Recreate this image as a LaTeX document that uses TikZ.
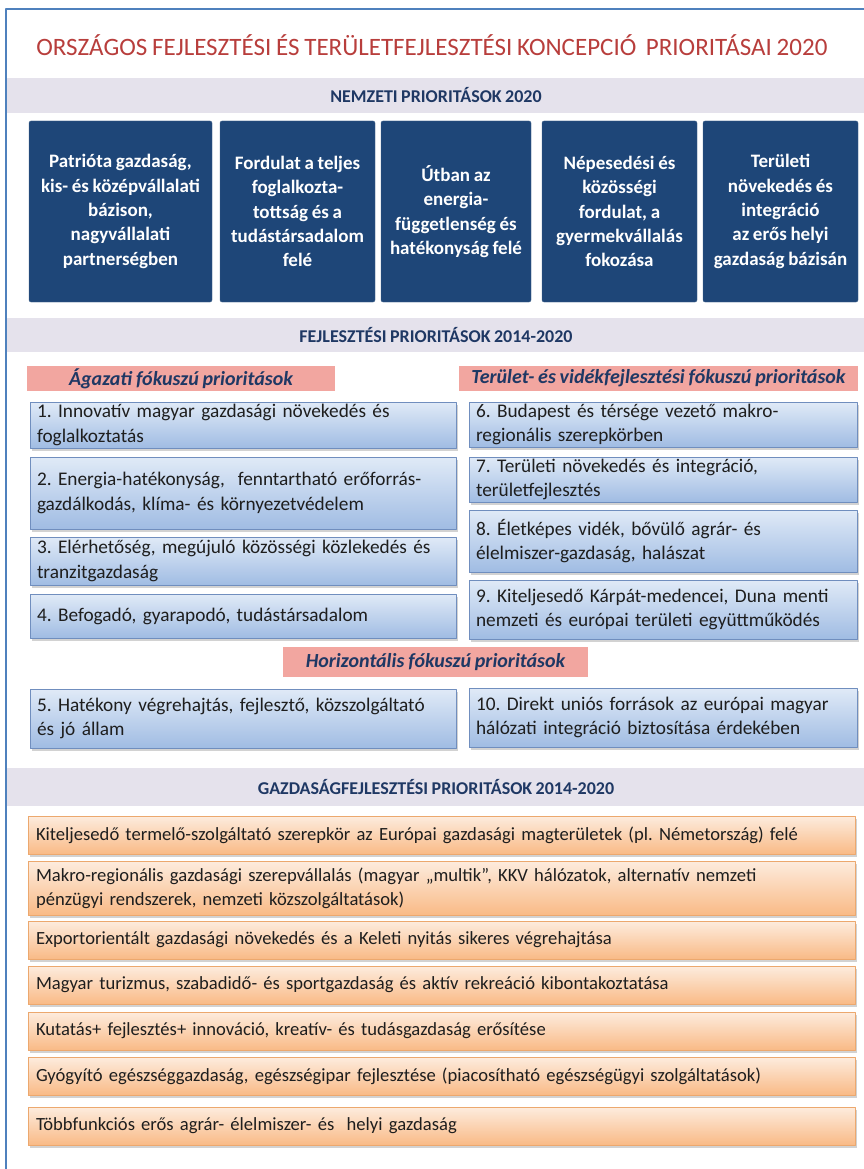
\documentclass[tikz,border=0pt]{standalone}
\usepackage{fontspec}
\setmainfont{Carlito}[WordSpace=0.85]
\usetikzlibrary{shadows}
\definecolor{framblue}{RGB}{79,129,189}
\definecolor{titred}{RGB}{184,62,60}
\definecolor{navy}{RGB}{31,56,100}
\definecolor{bandgray}{RGB}{229,226,236}
\definecolor{natblue}{RGB}{30,70,120}
\definecolor{salmon}{RGB}{242,166,160}
\definecolor{priotop}{RGB}{224,234,247}
\definecolor{priobot}{RGB}{160,188,227}
\definecolor{prioedge}{RGB}{112,142,190}
\definecolor{gztop}{RGB}{253,236,222}
\definecolor{gzbot}{RGB}{249,186,134}
\definecolor{gzedge}{RGB}{236,168,110}
\definecolor{txt}{RGB}{30,30,30}
\frenchspacing
\begin{document}
\begin{tikzpicture}[x=1pt, y=-1pt, line join=round,
    band/.style={fill=bandgray, minimum width=858pt, minimum height=#1, inner sep=0pt,
      text=navy, font=\bfseries\fontsize{18}{21}\selectfont},
    natbox/.style={fill=natblue, draw=natblue!85!white, rounded corners=2pt, text=white,
      align=center, minimum height=181pt, inner sep=2pt,
      font=\bfseries\fontsize{19}{24.3}\selectfont},
    focus/.style={fill=salmon, minimum height=#1, inner sep=0pt, text=navy,
      font=\bfseries\itshape\fontsize{20}{23}\selectfont},
    prio/.style={draw=prioedge, line width=0.8pt, top color=priotop, bottom color=priobot,
      drop shadow={shadow xshift=1.5pt, shadow yshift=-3pt, opacity=0.35},
      align=left, inner xsep=7pt, inner ysep=0pt, text=txt,
      font=\fontsize{19.3}{24.5}\selectfont},
    lcol/.style={prio, text width=412pt},
    rcol/.style={prio, text width=374pt},
    gazd/.style={draw=gzedge, line width=0.8pt, top color=gztop, bottom color=gzbot,
      drop shadow={shadow xshift=1.5pt, shadow yshift=-3pt, opacity=0.35},
      align=left, inner xsep=8pt, inner ysep=0pt, text width=811pt, text=txt,
      font=\fontsize{18.6}{24}\selectfont}]
  \useasboundingbox (0,0) rectangle (864,1169);
  \fill[white] (0,0) rectangle (864,1169);
  % keret
  \draw[framblue, line width=2pt] (6,1169) -- (6,9) -- (864,9);
  \node[text=titred, font=\fontsize{25}{28}\selectfont] (title) at (432,45)
    {ORSZÁGOS FEJLESZTÉSI ÉS TERÜLETFEJLESZTÉSI KONCEPCIÓ\ \ PRIORITÁSAI 2020};
  % nemzeti prioritások
  \node[band=35pt] (nat) at (436,95.5) {NEMZETI PRIORITÁSOK 2020};
  \node[natbox, minimum width=183pt] (n1) at (120.5,211.5)
    {Patrióta gazdaság,\\ kis- és középvállalati\\ bázison,\\ nagyvállalati\\ partnerségben};
  \node[natbox, minimum width=155pt] (n2) at (297.5,211.5)
    {Fordulat a teljes\\ foglalkozta-\\ tottság és a\\ tudástársadalom\\ felé};
  \node[natbox, minimum width=150pt] (n3) at (456,211.5)
    {Útban az\\ energia-\\ függetlenség és\\ hatékonyság felé};
  \node[natbox, minimum width=155pt] (n4) at (619.5,211.5)
    {Népesedési és\\ közösségi\\ fordulat, a\\ gyermekvállalás\\ fokozása};
  \node[natbox, minimum width=155pt] (n5) at (780.5,211.5)
    {Területi\\ növekedés és\\ integráció\\ az erős helyi\\ gazdaság bázisán};
  % fejlesztési prioritások
  \node[band=34pt] (fej) at (436,335) {FEJLESZTÉSI PRIORITÁSOK 2014-2020};
  \node[focus=25pt, minimum width=308pt] (agazat) at (181,378.5) {Ágazati fókuszú prioritások};
  \node[focus=25pt, minimum width=399pt] (terulet) at (658.5,378.5)
    {Terület- és vidékfejlesztési fókuszú prioritások};
  \node[lcol, minimum height=46pt] (f1) at (243,425)
    {1. Innovatív magyar gazdasági növekedés és\\ foglalkoztatás};
  \node[lcol, minimum height=72pt] (f2) at (243,493)
    {2. Energia-hatékonyság,\ \ fenntartható erőforrás-\\ gazdálkodás, klíma- és környezetvédelem};
  \node[lcol, minimum height=48pt] (f3) at (243,561)
    {3. Elérhetőség, megújuló közösségi közlekedés és\\ tranzitgazdaság};
  \node[lcol, minimum height=44pt] (f4) at (243,616)
    {4. Befogadó, gyarapodó, tudástársadalom};
  \node[lcol, minimum height=59pt] (f5) at (243,718.5)
    {5. Hatékony végrehajtás, fejlesztő, közszolgáltató\\ és jó állam};
  \node[rcol, minimum height=45pt] (f6) at (663,424.5)
    {6. Budapest és térsége vezető makro-\\ regionális szerepkörben};
  \node[rcol, minimum height=45pt] (f7) at (663,479.5)
    {7. Területi növekedés és integráció,\\ területfejlesztés};
  \node[rcol, minimum height=62pt] (f8) at (663,541)
    {8. Életképes vidék, bővülő agrár- és\\ élelmiszer-gazdaság, halászat};
  \node[rcol, minimum height=59pt] (f9) at (663,609.5)
    {9. Kiteljesedő Kárpát-medencei, Duna menti\\ nemzeti és európai területi együttműködés};
  \node[focus=30pt, minimum width=305pt] (horiz) at (435.5,662) {Horizontális fókuszú prioritások};
  \node[rcol, minimum height=59pt] (f10) at (663,717.5)
    {10. Direkt uniós források az európai magyar\\ hálózati integráció biztosítása érdekében};
  % gazdaságfejlesztési prioritások
  \node[band=38pt] (gaz) at (436,787) {GAZDASÁGFEJLESZTÉSI PRIORITÁSOK 2014-2020};
  \node[gazd, minimum height=38pt] (g1) at (441.5,835)
    {Kiteljesedő termelő-szolgáltató szerepkör az Európai gazdasági magterületek (pl. Németország) felé};
  \node[gazd, minimum height=54pt] (g2) at (441.5,888)
    {Makro-regionális gazdasági szerepvállalás (magyar „multik”, KKV hálózatok, alternatív nemzeti\\ pénzügyi rendszerek, nemzeti közszolgáltatások)};
  \node[gazd, minimum height=38pt] (g3) at (441.5,940)
    {Exportorientált gazdasági növekedés és a Keleti nyitás sikeres végrehajtása};
  \node[gazd, minimum height=38pt] (g4) at (441.5,985)
    {Magyar turizmus, szabadidő- és sportgazdaság és aktív rekreáció kibontakoztatása};
  \node[gazd, minimum height=38pt] (g5) at (441.5,1031)
    {Kutatás+ fejlesztés+ innováció, kreatív- és tudásgazdaság erősítése};
  \node[gazd, minimum height=38pt] (g6) at (441.5,1076)
    {Gyógyító egészséggazdaság, egészségipar fejlesztése (piacosítható egészségügyi szolgáltatások)};
  \node[gazd, minimum height=38pt] (g7) at (441.5,1126)
    {Többfunkciós erős agrár- élelmiszer- és\ \ helyi gazdaság};
\end{tikzpicture}
\end{document}
